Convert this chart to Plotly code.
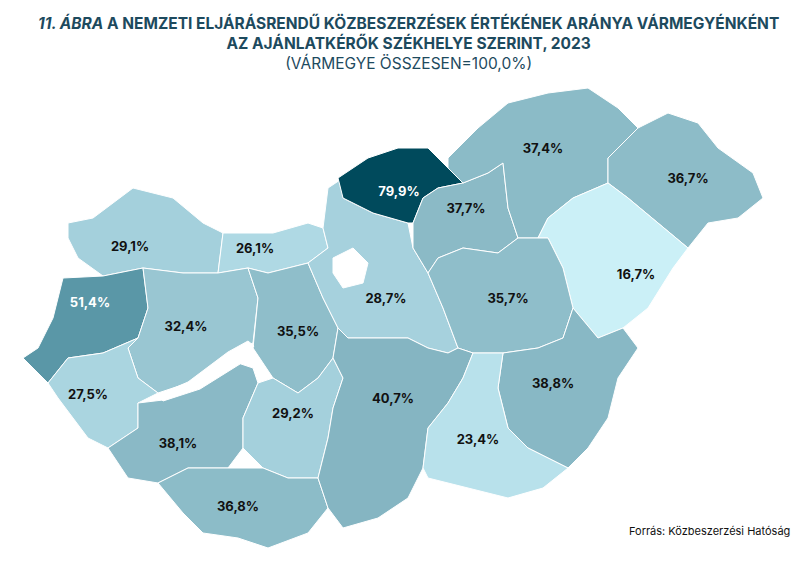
import plotly.graph_objects as go
from plotly.colors import sample_colorscale

# adatok
megyek = ["Győr-Moson-Sopron", "Komárom-Esztergom", "Vas", "Veszprém", "Zala", "Fejér",
          "Somogy", "Tolna", "Baranya", "Pest", "Nógrád", "Heves", "Borsod-Abaúj-Zemplén",
          "Szabolcs-Szatmár-Bereg", "Hajdú-Bihar", "Jász-Nagykun-Szolnok", "Békés",
          "Bács-Kiskun", "Csongrád-Csanád"]
ertekek = [29.1, 26.1, 51.4, 32.4, 27.5, 35.5, 38.1, 29.2, 36.8, 28.7, 79.9, 37.7, 37.4,
           36.7, 16.7, 35.7, 38.8, 40.7, 23.4]

# közelítő megyehatárok (vázlatos koordináták)
hatarok = [
    [(60,215),(85,210),(125,180),(165,190),(195,215),(215,225),(210,265),(175,265),(135,260),(95,268),(70,250),(60,230)],
    [(215,225),(265,225),(300,215),(315,220),(320,240),(300,255),(260,265),(240,260),(210,265)],
    [(55,270),(95,268),(135,260),(140,300),(130,330),(95,345),(60,350),(40,375),(15,350),(30,340),(45,310)],
    [(135,260),(175,265),(210,265),(240,260),(250,290),(245,335),(220,345),(180,375),(150,385),(130,370),(120,340),(130,330),(140,300)],
    [(60,350),(95,345),(130,330),(120,340),(130,370),(150,385),(130,395),(130,420),(100,440),(80,430),(50,390),(40,375)],
    [(240,260),(260,265),(300,255),(315,290),(330,320),(325,350),(310,370),(290,385),(265,370),(245,340),(250,290)],
    [(130,395),(155,392),(190,380),(230,355),(245,360),(250,375),(235,410),(235,440),(220,460),(180,460),(150,475),(120,470),(100,440),(130,420)],
    [(250,375),(265,370),(290,385),(310,370),(325,350),(335,370),(325,400),(320,430),(310,470),(280,470),(255,460),(235,440),(235,410)],
    [(150,475),(180,460),(220,460),(255,460),(280,470),(310,470),(320,500),(300,525),(260,540),(230,530),(195,525),(175,505)],
    [(315,220),(320,180),(335,170),(335,190),(365,205),(400,215),(405,240),(420,265),(435,300),(450,340),(440,345),(420,340),(400,330),(370,330),(340,330),(330,320),(315,290),(300,255),(320,240)],
    [(330,170),(360,150),(390,140),(420,140),(440,160),(455,175),(430,180),(415,190),(405,215),(400,215),(365,205),(335,190)],
    [(405,215),(415,190),(430,180),(455,175),(480,165),(495,155),(500,200),(510,230),(490,245),(455,240),(430,250),(420,265),(405,240)],
    [(440,150),(470,120),(500,95),(540,85),(580,80),(610,100),(630,120),(600,150),(600,175),(565,190),(540,210),(530,230),(510,230),(500,200),(495,155),(480,165),(455,175),(440,160)],
    [(600,150),(630,120),(660,105),(690,115),(710,140),(745,165),(755,190),(730,210),(700,215),(680,240),(650,215),(620,190),(600,175)],
    [(565,190),(600,175),(620,190),(650,215),(680,240),(665,260),(640,300),(615,320),(590,330),(565,300),(555,260),(540,230),(530,230),(540,210)],
    [(420,265),(430,250),(455,240),(490,245),(510,230),(540,230),(555,260),(565,300),(555,330),(530,340),(495,345),(465,345),(450,340),(435,300)],
    [(495,345),(530,340),(555,330),(565,300),(590,330),(615,320),(630,340),(610,370),(600,410),(580,440),(560,460),(520,440),(500,420),(490,380)],
    [(340,330),(370,330),(400,330),(420,340),(440,345),(450,340),(465,345),(455,370),(440,395),(420,420),(415,460),(400,490),(370,510),(335,520),(320,500),(310,470),(320,430),(325,400),(335,370),(325,350),(330,320)],
    [(440,395),(455,370),(465,345),(495,345),(490,380),(500,420),(520,440),(560,460),(535,480),(500,490),(460,480),(420,470),(415,460),(420,420)],
]
cimke_x = [122, 247, 82, 178, 80, 290, 170, 285, 230, 378, 391, 458, 535, 680, 628, 500, 545, 385, 470]
cimke_y = [240, 242, 296, 320, 388, 325, 437, 407, 500, 292, 185, 202, 142, 172, 268, 292, 377, 392, 433]

budapest = [(325,250),(345,240),(360,255),(355,275),(335,280),(325,265)]
balaton = [(150,387),(180,374),(220,344),(240,333),(246,338),(232,356),(192,381),(155,393)]

vmin, vmax = 15, 80
skala_ertek = [15, 23.4, 28, 35, 41, 51.4, 80]
skala_szin = ["#d0f4fa", "#b8e1eb", "#a8d3df", "#90bfcb", "#84b4c1", "#5a97a7", "#004a5c"]
skala = [[(v - vmin) / (vmax - vmin), c] for v, c in zip(skala_ertek, skala_szin)]

fig = go.Figure()
for nev, ert, pts in zip(megyek, ertekek, hatarok):
    szin = sample_colorscale(skala, [(ert - vmin) / (vmax - vmin)])[0]
    xs = [p[0] for p in pts] + [pts[0][0]]
    ys = [p[1] for p in pts] + [pts[0][1]]
    fig.add_trace(go.Scatter(x=xs, y=ys, fill="toself", fillcolor=szin, mode="lines",
                             line=dict(color="white", width=1), name=nev, hoverinfo="name"))
for pts in [budapest, balaton]:
    fig.add_trace(go.Scatter(x=[p[0] for p in pts] + [pts[0][0]], y=[p[1] for p in pts] + [pts[0][1]],
                             fill="toself", fillcolor="white", mode="lines",
                             line=dict(color="white", width=1), hoverinfo="skip"))

szovegszin = ["white" if e > 45 else "#111111" for e in ertekek]
fig.add_trace(go.Scatter(x=cimke_x, y=cimke_y, mode="text",
                         text=[f"{e:.1f}%".replace(".", ",") for e in ertekek],
                         textfont=dict(family="Inter", size=13, color=szovegszin, weight="bold"),
                         hoverinfo="skip"))

fig.update_layout(
    width=800, height=564, showlegend=False, plot_bgcolor="white", paper_bgcolor="white",
    margin=dict(l=0, r=0, t=0, b=0),
    xaxis=dict(range=[0, 800], visible=False),
    yaxis=dict(range=[564, 0], visible=False),
    font=dict(family="Inter"),
)
fig.add_annotation(x=0.5, y=0.995, xref="paper", yref="paper", yanchor="top", showarrow=False,
                   align="center", font=dict(size=15.5, color="#1d4a5e"),
                   text="<b><i>11. ÁBRA</i> A NEMZETI ELJÁRÁSRENDŰ KÖZBESZERZÉSEK ÉRTÉKÉNEK ARÁNYA VÁRMEGYÉNKÉNT<br>"
                        "AZ AJÁNLATKÉRŐK SZÉKHELYE SZERINT, 2023</b><br>(VÁRMEGYE ÖSSZESEN=100,0%)")
fig.add_annotation(x=0.98, y=523, xref="paper", yref="y", xanchor="right", showarrow=False,
                   text="Forrás: Közbeszerzési Hatóság", font=dict(size=11, color="#111111"))

fig.write_html("out.html")
